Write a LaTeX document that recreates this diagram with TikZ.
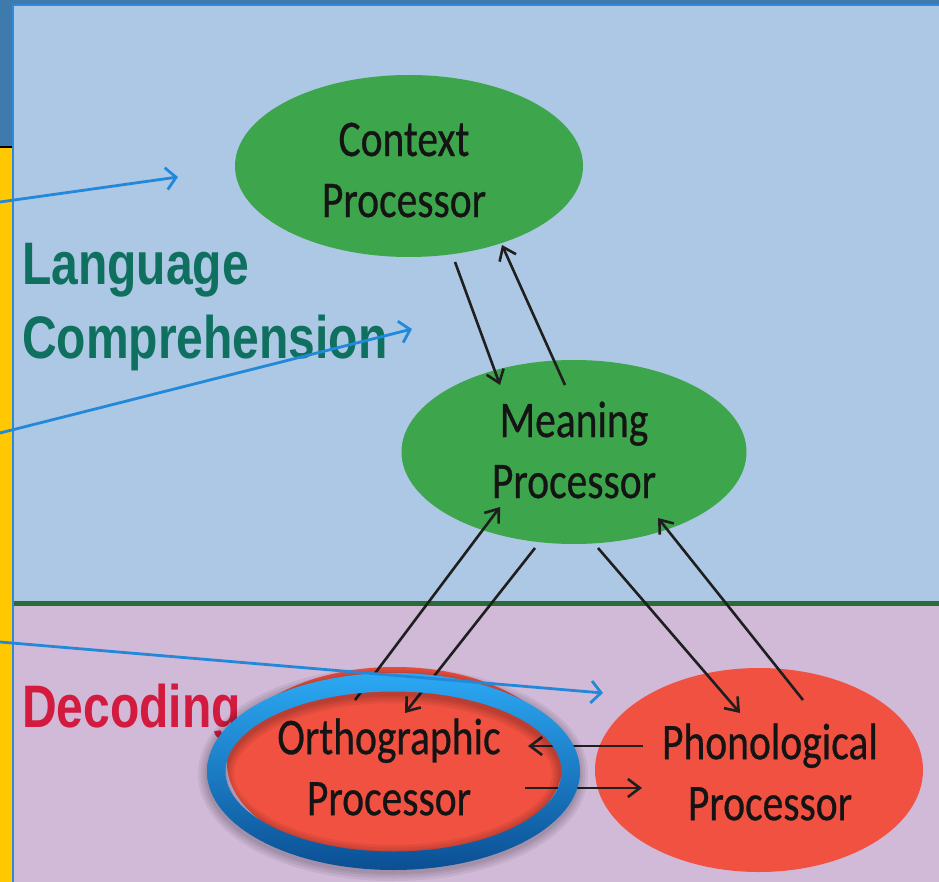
\documentclass[tikz,border=0pt]{standalone}
\usepackage{fontspec}
\setmainfont{Carlito}
\newfontfamily\procfont{Carlito}[BoldFont=Carlito, BoldFeatures={FakeBold=0.6}]
\newfontfamily\labelfont{Liberation Sans}
\usetikzlibrary{arrows.meta,calc,shapes.geometric}

\definecolor{panelblue}{HTML}{ADC8E4}
\definecolor{panelpink}{HTML}{D1B9D8}
\definecolor{frameblue}{HTML}{3F7AAC}
\definecolor{edgeblue}{HTML}{2E8AD8}
\definecolor{stripyellow}{HTML}{FFC800}
\definecolor{divider}{HTML}{2B6B35}
\definecolor{procgreen}{HTML}{3DA54B}
\definecolor{procred}{HTML}{F05141}
\definecolor{teallabel}{HTML}{107060}
\definecolor{redlabel}{HTML}{D31A3F}
\definecolor{pointer}{HTML}{2288DA}
\definecolor{ringtop}{HTML}{2CA9F4}
\definecolor{ringbottom}{HTML}{0B4F94}

% slightly tall lettering
\newcommand\tallline[1]{\scalebox{1}[1.24]{#1}}

\begin{document}
\begin{tikzpicture}[x=1pt,y=-1pt,
  procshape/.style={ellipse, inner sep=0pt, draw=none},
  greenproc/.style={procshape, fill=procgreen},
  redproc/.style={procshape, fill=procred},
  proctext/.style={font=\procfont\bfseries\fontsize{41.5}{61}\selectfont, align=center, text=black!92, inner sep=0pt},
  sectionlabel/.style={font=\labelfont\bfseries\fontsize{48}{58}\selectfont, anchor=base west, inner sep=0pt},
  link/.style={draw=black!88, line width=2.6pt, -{Straight Barb[length=12pt,width=18pt]}},
  pointerarrow/.style={draw=pointer, line width=2.8pt, -{Straight Barb[length=10pt,width=22pt]}}
]
\useasboundingbox (0,0) rectangle (939,882);

% backgrounds
\fill[panelpink] (0,0) rectangle (939,882);
\fill[panelblue] (12,0) rectangle (939,603);
\draw[divider, line width=5.5pt] (13,603.5) -- (939,603.5);
\fill[frameblue] (0,0) rectangle (12,146);
\fill[frameblue] (0,0) rectangle (939,5);
\fill[stripyellow] (0,148) rectangle (11,882);
\draw[black, line width=2.5pt] (0,146.8) -- (12,146.8);
\draw[edgeblue, line width=2pt] (12.5,5) -- (12.5,882);
\draw[edgeblue, line width=2pt] (12,5.5) -- (939,5.5);

% processors
\node[greenproc, minimum width=348pt, minimum height=182pt] (ctx) at (409,166) {};
\node[greenproc, minimum width=345pt, minimum height=184pt] (mean) at (574,452) {};
\node[redproc, minimum width=336pt, minimum height=192pt] (orth) at (395,763) {};
\node[redproc, minimum width=328pt, minimum height=204pt] (phon) at (759,770) {};

\node[proctext] (ctxT) at ($(ctx)+(-5,4)$) {\tallline{Context}\\\tallline{Processor}};
\node[proctext] (meanT) at ($(mean)+(0,-2)$) {\tallline{Meaning}\\\tallline{Processor}};
\node[proctext] (orthT) at ($(orth)+(-6,4)$) {\tallline{Orthographic}\\\tallline{Processor}};
\node[proctext] (phonT) at ($(phon)+(11,2)$) {\tallline{Phonological}\\\tallline{Processor}};

% section labels
\node[sectionlabel, text=teallabel] (lang1) at (22,285) {\scalebox{1}[1.25]{Language}};
\node[sectionlabel, text=teallabel] (lang2) at (22,358) {\scalebox{1}[1.25]{Comprehension}};
\node[sectionlabel, text=redlabel] (dec) at (22,727) {\scalebox{1}[1.25]{Decoding}};

% links between processors
\draw[link] ($(ctx)+(46,96)$) -- ($(mean)+(-74,-67)$);
\draw[link] ($(mean)+(-9,-67)$) -- ($(ctx)+(93,79)$);
\draw[link] ($(orth)+(-40,-63)$) -- ($(mean)+(-74,55)$);
\draw[link] ($(mean)+(-39,96)$) -- ($(orth)+(10,-50)$);
\draw[link] ($(mean)+(24,96)$) -- ($(phon)+(-19,-57)$);
\draw[link] ($(phon)+(44,-70)$) -- ($(mean)+(84,66)$);
\draw[link] ($(phon)+(-116,-24)$) -- ($(orth)+(133,-17)$);
\draw[link] ($(orth)+(130,25)$) -- ($(phon)+(-117,18)$);

% highlight ring with soft shadow
\foreach \w in {36,31,26,22}
  \draw[black, opacity=0.06, line width=\w pt] (393,774) ellipse [x radius=177, y radius=89];
\shade[top color=ringtop, bottom color=ringbottom, even odd rule]
  (393.5,771.5) ellipse [x radius=186.5, y radius=98.5]
  (393.5,771.5) ellipse [x radius=168, y radius=80];

% pointers from the side strip
\coordinate (p1s) at (0,202);
\coordinate (p1e) at (178,177);
\coordinate (p2s) at (0,433);
\coordinate (p2e) at (412,329);
\coordinate (p3s) at (0,642);
\coordinate (p3e) at (603,693);
\draw[pointerarrow] (p1s) -- (p1e);
\draw[pointerarrow] (p2s) -- (p2e);
\draw[pointerarrow] (p3s) -- (p3e);
\end{tikzpicture}
\end{document}
